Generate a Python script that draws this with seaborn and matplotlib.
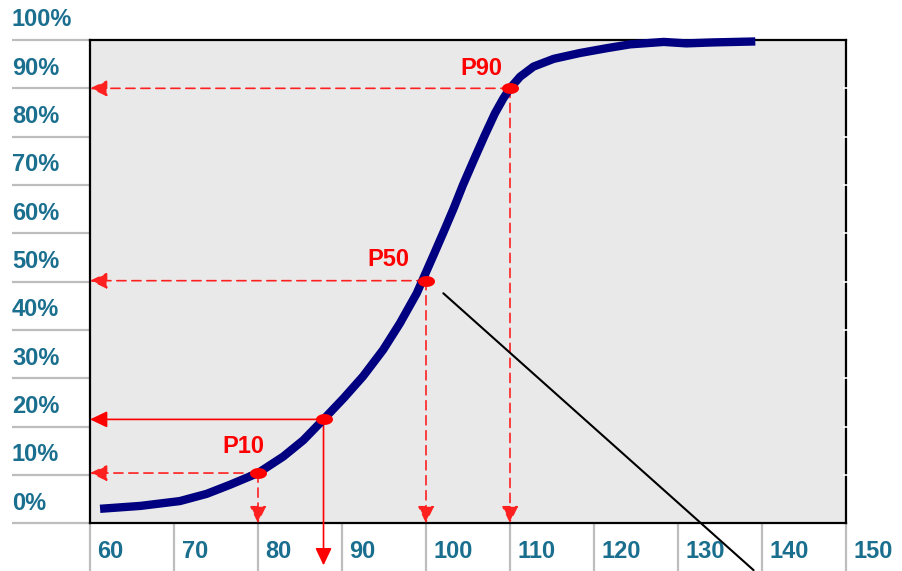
import numpy as np
import matplotlib
matplotlib.use("Agg")
import matplotlib.pyplot as plt
from matplotlib.path import Path
from matplotlib.transforms import blended_transform_factory
import seaborn as sns

# S-curve (cumulative probability)
curve_x = [61.2, 66.0, 70.7, 73.9, 76.7, 80.0, 83.0, 85.4, 87.8, 90.2, 92.5,
           94.9, 96.9, 98.9, 100.9, 102.1, 103.3, 104.4, 105.8, 107.0,
           108.2, 109.2, 110.0, 111.2, 112.8, 115.2, 118.3, 121.5, 124.3,
           128.3, 131.0, 134.2, 139.2]
curve_y = [3.0, 3.6, 4.6, 6.1, 8.0, 10.4, 13.8, 17.2, 21.5, 25.9, 30.4,
           35.9, 41.4, 47.6, 55.5, 60.3, 65.2, 70.0, 75.6, 80.3,
           84.8, 87.9, 90.0, 92.4, 94.5, 96.1, 97.3, 98.3, 99.1,
           99.6, 99.3, 99.5, 99.7]

# highlighted points
pt_names = ["P10", "", "P50", "P90"]
pt_x = [80.0, 87.8, 100.0, 110.0]
pt_y = [10.4, 21.5, 50.2, 90.0]
pt_dashed = [True, False, True, True]
pt_drop = [0, -8.7, 0, 0]          # where the downward arrow ends
label_x = [78.3, None, 95.5, 106.6]
label_y = [15.9, None, 54.5, 94.1]

# black leader line
leader_x = [102.06, 139.0]
leader_y = [47.6, -9.7]

x_ticks = list(range(60, 151, 10))
y_ticks = list(range(0, 101, 10))
y_labels = [f"{v}%" for v in y_ticks]

tick_color = "#1a6f8f"
red = "#ff0000"

sns.set_style("white")
plt.rcParams["font.family"] = ["Liberation Sans", "DejaVu Sans"]

fig = plt.figure(figsize=(9.03, 5.71), dpi=100)
ax = fig.add_axes([90 / 903, 47.7 / 571, 756 / 903, 483.3 / 571])
ax.set_facecolor("#e9e9e9")
ax.set_xlim(60, 150)
ax.set_ylim(0, 100)

for s in ax.spines.values():
    s.set_color("black")
    s.set_linewidth(1.6)

ax.set_xticks(x_ticks)
ax.set_yticks(y_ticks)
ax.set_xticklabels([])
ax.set_yticklabels([])
ax.tick_params(axis="y", length=56, width=1.6, color="#bdbdbd", left=True, direction="out")
ax.tick_params(axis="x", length=40, width=1.6, color="#bdbdbd", bottom=True, direction="out")

# white notches on right spine
tw = ax.twinx()
tw.set_ylim(0, 100)
tw.set_yticks(y_ticks[1:-1])
tw.set_yticklabels([])
tw.tick_params(axis="y", right=True, length=4, width=1.2, color="white", direction="inout")
for s in tw.spines.values():
    s.set_visible(False)

# tick labels
ytrans = blended_transform_factory(fig.transFigure, ax.transData)
for v, lab in zip(y_ticks, y_labels):
    ax.text(12 / 903, v + 4.2, lab, transform=ytrans, ha="left", va="center",
            fontsize=17, fontweight="bold", color=tick_color, clip_on=False)
for v in x_ticks:
    ax.text(v + 0.9, -5.9, str(v), ha="left", va="center",
            fontsize=17, fontweight="bold", color=tick_color, clip_on=False)

# arrows to the axes
for x, y, dashed, drop in zip(pt_x, pt_y, pt_dashed, pt_drop):
    ls = (0, (5.5, 3.5)) if dashed else "-"
    col = "#ff2020" if dashed else red
    props = dict(arrowstyle="-|>,head_length=1.05,head_width=0.5", color=col,
                 lw=1.2, linestyle=ls, shrinkA=0, shrinkB=0)
    ax.annotate("", xy=(60, y), xytext=(x, y), arrowprops=props, annotation_clip=False)
    ax.annotate("", xy=(x, drop), xytext=(x, y), arrowprops=props, annotation_clip=False)

sns.lineplot(x=curve_x, y=curve_y, color="#000080", linewidth=6, ax=ax,
             solid_capstyle="butt", solid_joinstyle="round", clip_on=False, zorder=4)

ax.plot(leader_x, leader_y, color="black", lw=1.5, clip_on=False, zorder=4)

# ellipse marker
t = np.linspace(0, 2 * np.pi, 60)
ell = Path(np.column_stack([np.cos(t), 0.64 * np.sin(t)]), closed=True)
sns.scatterplot(x=pt_x, y=pt_y, marker=ell, s=150, color=red, linewidth=0,
                ax=ax, zorder=6, clip_on=False)

for name, lx, ly in zip(pt_names, label_x, label_y):
    if name:
        ax.text(lx, ly, name, ha="center", va="center", fontsize=17,
                fontweight="bold", color=red)

fig.savefig("out.png", dpi=100)
